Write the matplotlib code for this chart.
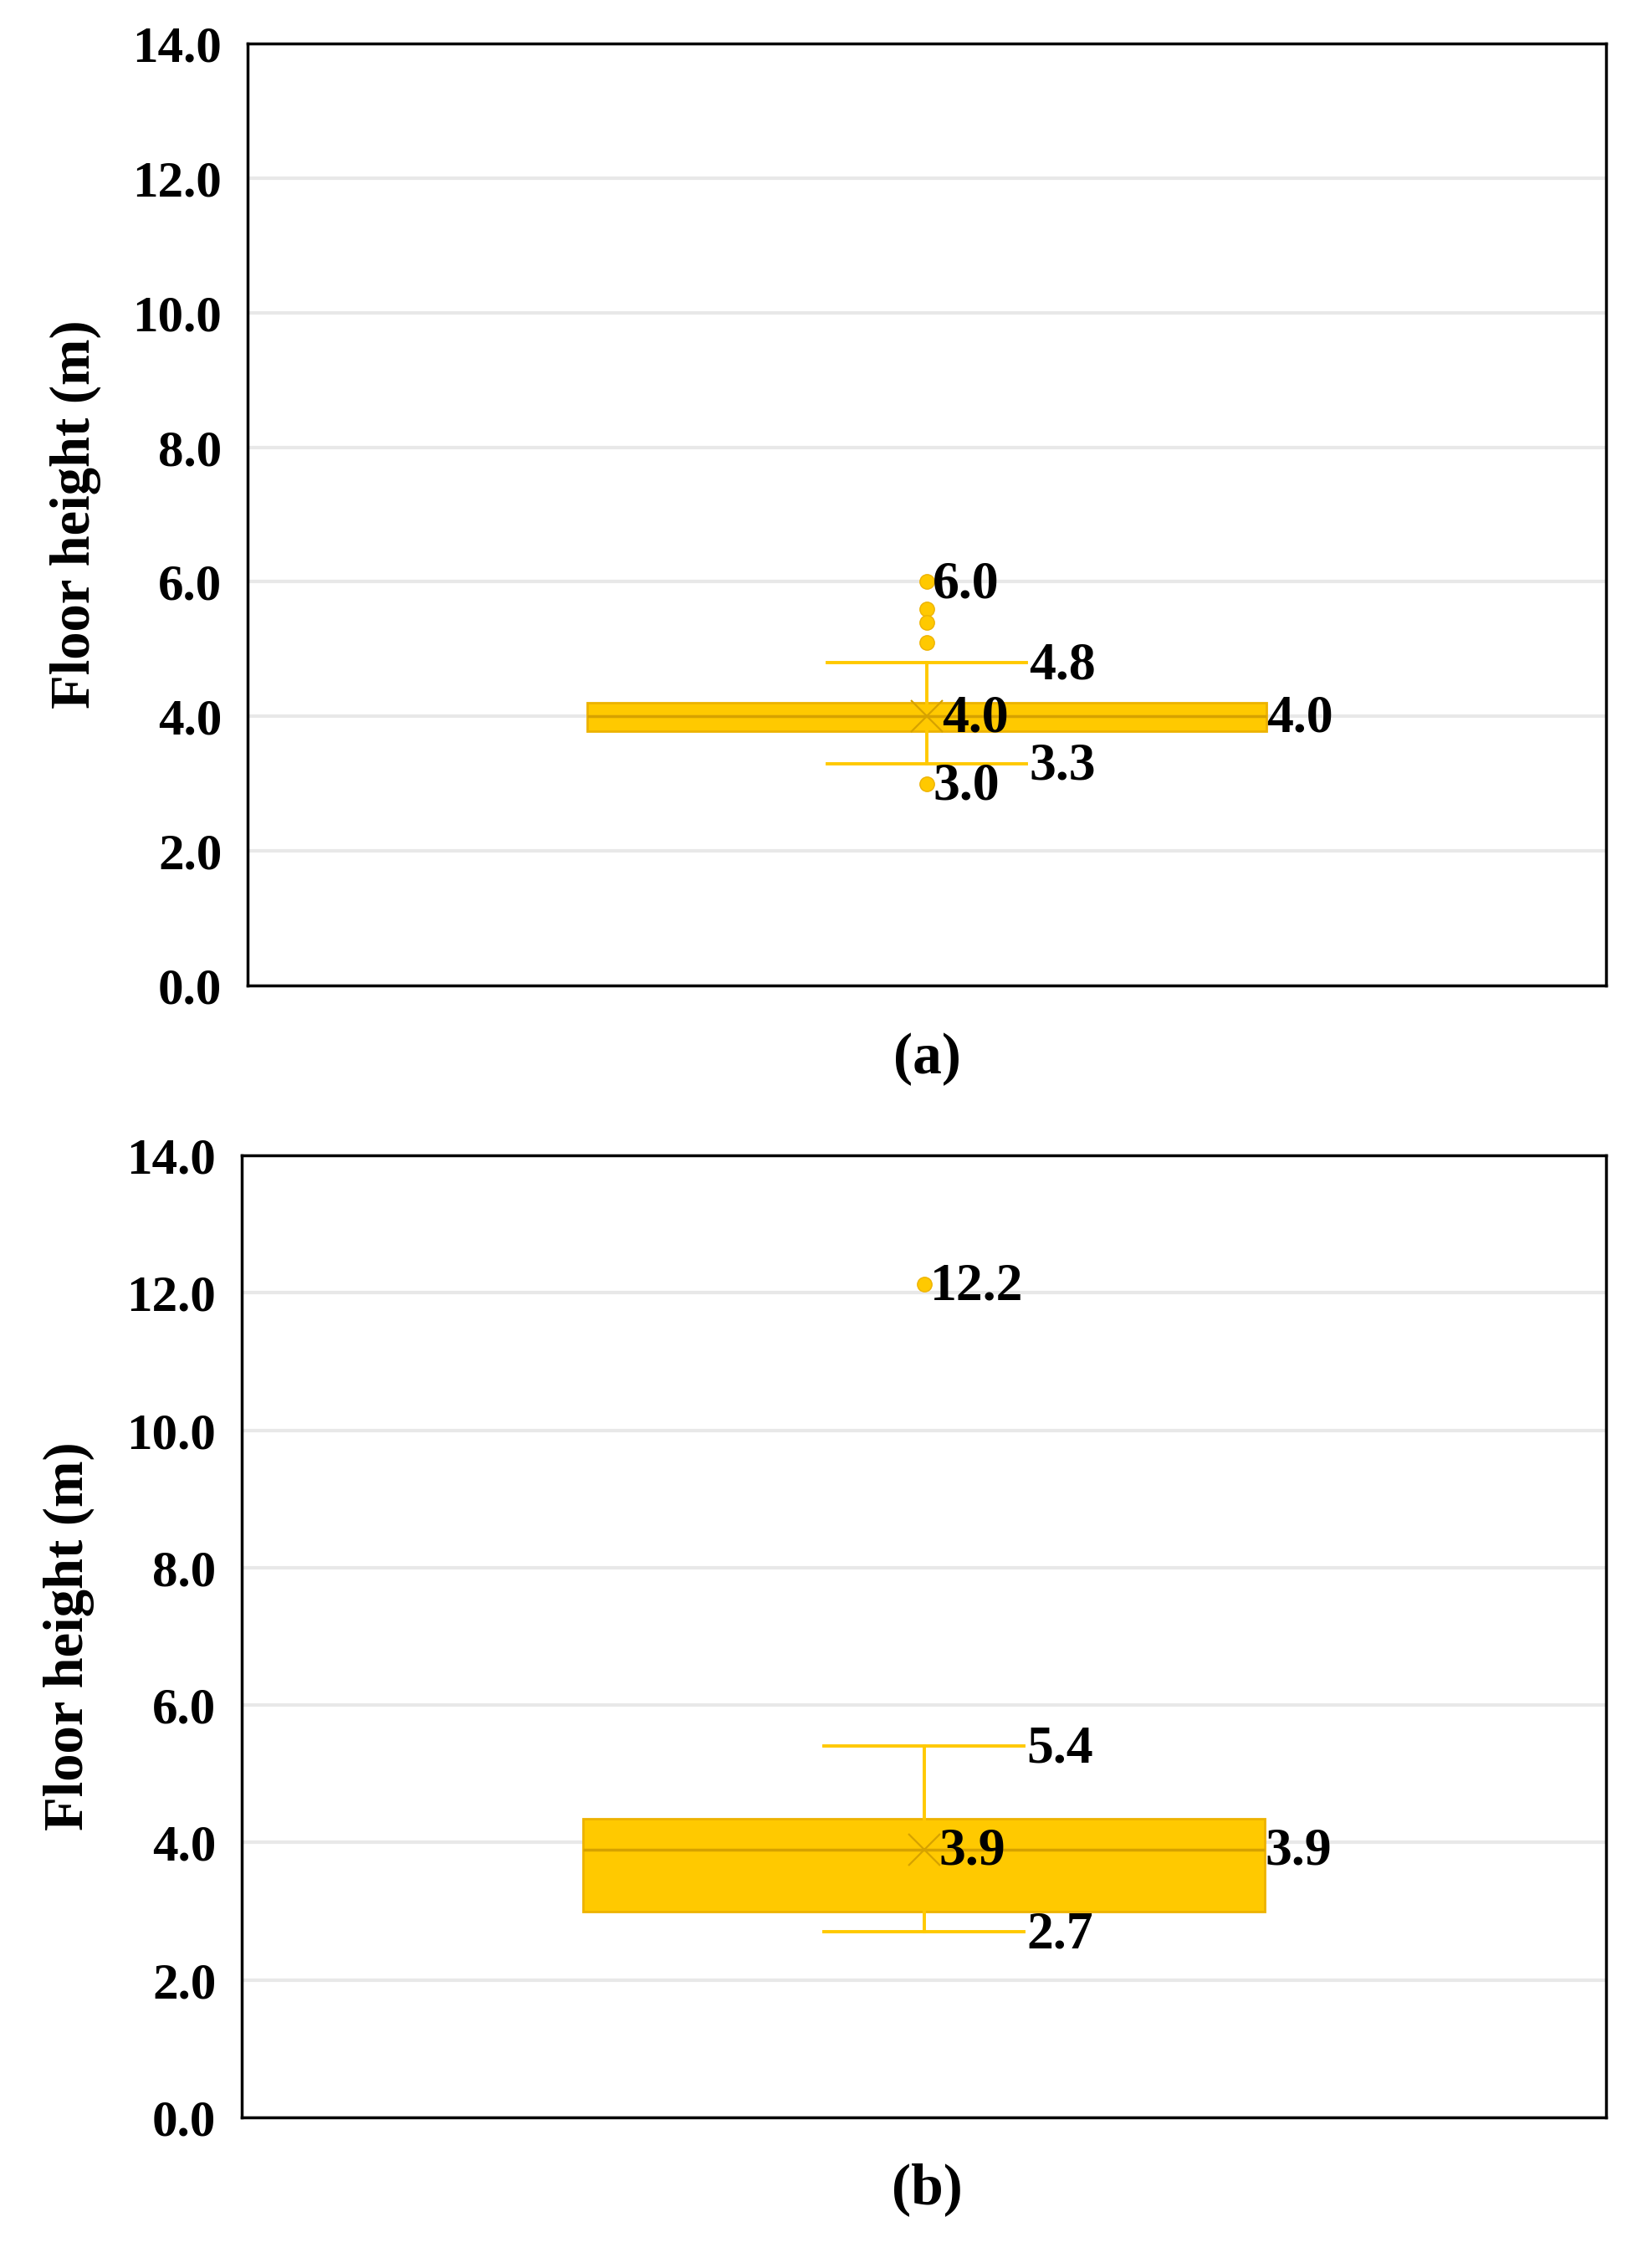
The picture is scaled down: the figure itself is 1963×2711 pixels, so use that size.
import matplotlib
matplotlib.use("Agg")
import matplotlib.pyplot as plt

# ---- data ----
panel_labels = ["(a)", "(b)"]
q1 = [3.78, 3.0]
med = [4.0, 3.9]
q3 = [4.2, 4.35]
mean = [4.0, 3.9]
whis_lo = [3.3, 2.7]
whis_hi = [4.8, 5.4]
fliers = [[6.0, 5.6, 5.4, 5.1, 3.0], [12.13]]
flier_label_pos = [[6.0, 3.0], [12.13]]
flier_label_text = [["6.0", "3.0"], ["12.2"]]
yticks = [0, 2, 4, 6, 8, 10, 12, 14]

GOLD = "#FFC900"
EDGE = "#EDB200"
DARK = "#D6A200"
FONT = ["Liberation Serif", "DejaVu Serif"]

fig = plt.figure(figsize=(19.63, 27.11), dpi=100)
axes_rects = [
    [296 / 1963, 1 - 1178 / 2711, (1920 - 296) / 1963, (1178 - 52) / 2711],
    [289 / 1963, 1 - 2531 / 2711, (1920 - 289) / 1963, (2531 - 1381) / 2711],
]
label_y = [1 - 1266 / 2711, 1 - 2617 / 2711]

box_w = 0.5
cap_w = 0.147

for i in range(2):
    ax = fig.add_axes(axes_rects[i])
    stats = [dict(med=med[i], q1=q1[i], q3=q3[i], whislo=whis_lo[i],
                  whishi=whis_hi[i], fliers=fliers[i], mean=mean[i])]
    ax.bxp(stats, positions=[1], widths=box_w, capwidths=cap_w,
           showmeans=True, patch_artist=True, zorder=3,
           boxprops=dict(facecolor=GOLD, edgecolor=EDGE, linewidth=2),
           medianprops=dict(color=DARK, linewidth=2.5),
           whiskerprops=dict(color=GOLD, linewidth=2.8),
           capprops=dict(color=GOLD, linewidth=2.8),
           flierprops=dict(marker="o", markerfacecolor=GOLD,
                           markeredgecolor=EDGE, markersize=12.5),
           meanprops=dict(marker="x", markeredgecolor=DARK, markersize=28,
                          markeredgewidth=1.6))
    ax.set_xlim(0.5, 1.5)
    ax.set_ylim(0, 14)
    ax.set_yticks(yticks)
    ax.set_yticklabels([f"{v:.1f}" for v in yticks], fontfamily=FONT,
                       fontweight="bold", fontsize=44)
    ax.set_xticks([])
    ax.tick_params(axis="y", length=0, pad=22)
    ax.grid(axis="y", color="#E8E8E8", linewidth=3, zorder=0)
    ax.set_axisbelow(True)
    for s in ax.spines.values():
        s.set_color("black")
        s.set_linewidth(2.5)
    ax.set_ylabel("Floor height (m)", fontfamily=FONT, fontweight="bold",
                  fontsize=48)
    ax.yaxis.set_label_coords(-0.108, 0.5)

    tkw = dict(fontfamily=FONT, fontweight="bold", fontsize=46,
               color="black", va="center", ha="left", zorder=5)
    # whisker labels
    ax.annotate(f"{whis_hi[i]:.1f}", (1 + cap_w / 2, whis_hi[i]),
                xytext=(2, -3), textcoords="offset points", **tkw)
    ax.annotate(f"{whis_lo[i]:.1f}", (1 + cap_w / 2, whis_lo[i]),
                xytext=(2, -3), textcoords="offset points", **tkw)
    # mean label
    ax.annotate(f"{mean[i]:.1f}", (1, mean[i]), xytext=(13, -2),
                textcoords="offset points", **tkw)
    # median label
    ax.annotate(f"{med[i]:.1f}", (1 + box_w / 2, med[i]), xytext=(0, -2),
                textcoords="offset points", **tkw)
    # outlier labels
    for v, t in zip(flier_label_pos[i], flier_label_text[i]):
        ax.annotate(t, (1, v), xytext=(5, -3),
                    textcoords="offset points", **tkw)

    fig.text(0.5645, label_y[i], panel_labels[i], fontfamily=FONT,
             fontweight="bold", fontsize=50, ha="center", va="center")

fig.savefig("out.png", dpi=100, facecolor="white")
